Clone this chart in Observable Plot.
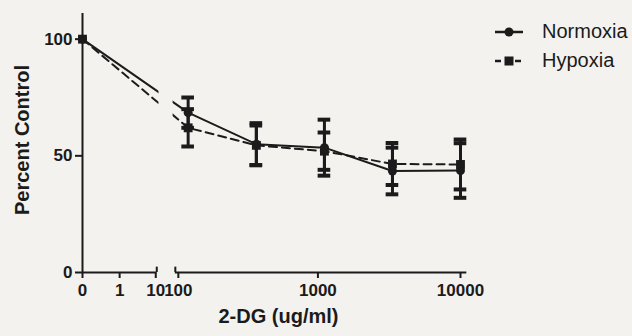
<!DOCTYPE html>
<html><head><meta charset="utf-8">
<script src="https://cdn.jsdelivr.net/npm/d3@7"></script>
<script src="https://cdn.jsdelivr.net/npm/@observablehq/plot@0.6"></script>
<style>
html,body{margin:0;padding:0;background:#f3f2ee;}
#wrap{position:relative;width:632px;height:336px;overflow:hidden;font-family:"Liberation Sans",Arial,sans-serif;}
#legend{position:absolute;left:494px;top:17px;}
.row{display:flex;align-items:center;height:29px;}
.row span{font-size:20px;color:#1b1b1b;margin-left:18px;}
</style></head><body><div id="wrap"><div id="legend"></div></div>
<script>
// ---- data ----
const doses = [0, 123, 370, 1111, 3333, 10000];
const normoxia = [100, 68.5, 55, 53.5, 43.5, 43.7];
const normoxiaSem = [0, 6.5, 9, 12, 10, 11.7];
const hypoxia = [100, 62, 54.5, 52, 46.5, 46.3];
const hypoxiaSem = [0, 8, 8.5, 8, 9, 10.7];
const seriesNames = ["Normoxia", "Hypoxia"];
const xTicks = [0, 1, 10, 100, 1000, 10000];
const xTickLabels = ["0", "1", "10", "100", "1000", "10000"];
const yTicks = [0, 50, 100];
const breakTicks = [10, 100];

// ---- segmented x axis: 0, 1, 10 evenly spaced, then a log axis 100..10000 ----
const DECADE = 3.84, RIGHT0 = 2.5;
function pos(d) {
  if (d < 100) return d === 0 ? 0 : 1 + Math.log10(d);
  return RIGHT0 + (Math.log10(d) - 2) * DECADE;
}

const INK = "#1b1b1b", BG = "#f3f2ee";
const FONT = "Liberation Sans, Arial, sans-serif";

const rows = [];
doses.forEach((d, i) => {
  rows.push({series: seriesNames[0], dose: d, v: normoxia[i], sem: normoxiaSem[i]});
  rows.push({series: seriesNames[1], dose: d, v: hypoxia[i], sem: hypoxiaSem[i]});
});
const N = rows.filter(r => r.series === "Normoxia");
const H = rows.filter(r => r.series === "Hypoxia");
const withErr = rows.filter(r => r.sem > 0);
const labelOf = new Map(xTicks.map((t, i) => [pos(t), xTickLabels[i]]));
const CAP = 0.17;
const axisStyle = {tickSize: 6, tickPadding: 5, strokeWidth: 2, stroke: INK, fill: INK,
  fontSize: 17, fontWeight: "bold", label: null, tickFormat: p => labelOf.get(p)};

const chart = Plot.plot({
  width: 632, height: 336,
  marginLeft: 82, marginRight: 172, marginTop: 13, marginBottom: 64,
  style: {background: BG, fontFamily: FONT, color: INK, overflow: "visible"},
  x: {domain: [0, pos(10000)]},
  y: {domain: [0, 111]},
  marks: [
    Plot.line(H, {x: d => pos(d.dose), y: "v", stroke: INK, strokeWidth: 2, strokeDasharray: "8,5"}),
    Plot.line(N, {x: d => pos(d.dose), y: "v", stroke: INK, strokeWidth: 2}),
    // hide the line where it crosses the axis break
    Plot.rect([0], {x1: 2.06, x2: 2.44, y1: 1, y2: 111, fill: BG}),
    Plot.ruleX(withErr, {x: d => pos(d.dose), y1: d => d.v - d.sem, y2: d => d.v + d.sem, stroke: INK, strokeWidth: 3}),
    Plot.ruleY(withErr, {x1: d => pos(d.dose) - CAP, x2: d => pos(d.dose) + CAP, y: d => d.v + d.sem, stroke: INK, strokeWidth: 4}),
    Plot.ruleY(withErr, {x1: d => pos(d.dose) - CAP, x2: d => pos(d.dose) + CAP, y: d => d.v - d.sem, stroke: INK, strokeWidth: 4}),
    Plot.dot(N, {x: d => pos(d.dose), y: "v", r: 4.5, fill: INK, stroke: "none", symbol: "circle"}),
    Plot.dot(H, {x: d => pos(d.dose), y: "v", r: 5, fill: INK, stroke: "none", symbol: "square"}),
    // axis lines (segmented)
    Plot.ruleX([0], {x: 0, y1: 0, y2: 111, stroke: INK, strokeWidth: 2}),
    Plot.ruleY([0], {x1: 0, x2: pos(10), y: 0, stroke: INK, strokeWidth: 2}),
    Plot.ruleY([0], {x1: pos(100), x2: pos(10000) + 0.17, y: 0, stroke: INK, strokeWidth: 2}),
    Plot.ruleX(breakTicks, {x: d => pos(d), y1: 0, y2: 2.3, stroke: INK, strokeWidth: 2}),
    Plot.axisY({ticks: yTicks, tickSize: 7, tickPadding: 3, strokeWidth: 2, stroke: INK, fill: INK,
      fontSize: 17, fontWeight: "bold", label: null}),
    Plot.axisX({...axisStyle, ticks: [0, 1, 1000, 10000].map(pos)}),
    Plot.axisX({...axisStyle, ticks: [pos(10)], dx: -1}),
    Plot.axisX({...axisStyle, ticks: [pos(100)], dx: 3}),
    Plot.text(["2-DG (ug/ml)"], {frameAnchor: "bottom", dx: 7, dy: 50, fontSize: 20, fontWeight: "bold", fill: INK}),
    Plot.text(["Percent Control"], {frameAnchor: "left", textAnchor: "middle", rotate: -90, dx: -60, dy: -3,
      fontSize: 20, fontWeight: "bold", fill: INK})
  ]
});
const wrap = document.getElementById("wrap");
wrap.insertBefore(chart, wrap.firstChild);

// legend
const legend = document.getElementById("legend");
const sym = {
  Normoxia: `<svg width="30" height="14"><line x1="1" x2="29" y1="7" y2="7" stroke="${INK}" stroke-width="2.5"/><circle cx="15" cy="7" r="4.5" fill="${INK}"/></svg>`,
  Hypoxia: `<svg width="30" height="14"><line x1="1" x2="29" y1="7" y2="7" stroke="${INK}" stroke-width="2.5" stroke-dasharray="6,4"/><rect x="10.5" y="2.5" width="9" height="9" fill="${INK}"/></svg>`
};
seriesNames.forEach(s => {
  const r = document.createElement("div");
  r.className = "row";
  r.innerHTML = sym[s] + `<span>${s}</span>`;
  legend.appendChild(r);
});
</script>
</body></html>
